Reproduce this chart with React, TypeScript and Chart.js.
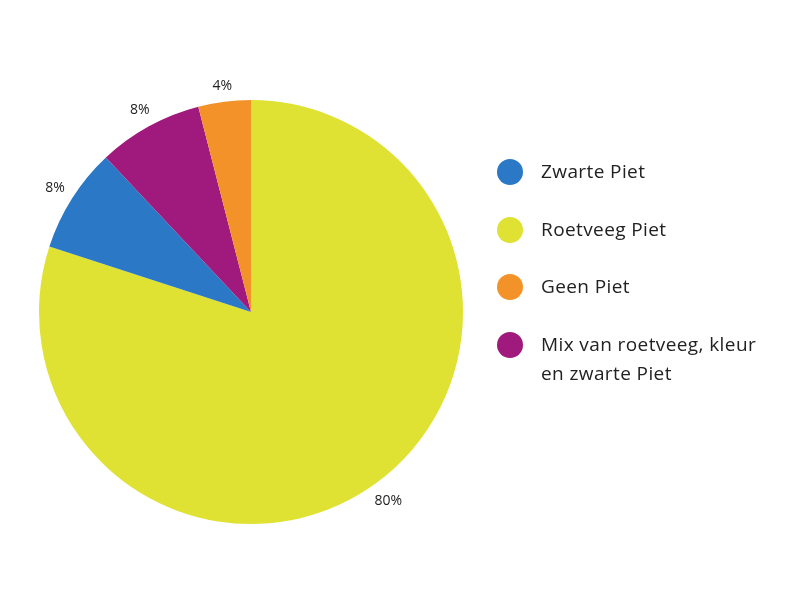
import { useEffect, useRef } from "react"
import { Chart, registerables } from "chart.js"

Chart.register(...registerables)

// slice order, clockwise from 12 o'clock
const labels = ["Roetveeg Piet", "Zwarte Piet", "Mix van roetveeg, kleur en zwarte Piet", "Geen Piet"]
const values = [80, 8, 8, 4]
const colors = ["#dfe232", "#2a78c6", "#a0197d", "#f39229"]
// the legend lists them in another order
const legendOrder = [1, 0, 3, 2]
const legendText = [["Roetveeg Piet"], ["Zwarte Piet"], ["Mix van roetveeg, kleur", "en zwarte Piet"], ["Geen Piet"]]

const FONT = "'Open Sans', Lato, sans-serif"

const outsideLabels = {
  id: "outsideLabels",
  afterDatasetsDraw(chart: Chart) {
    const ctx = chart.ctx
    const meta = chart.getDatasetMeta(0)
    ctx.save()
    ctx.font = `14px ${FONT}`
    ctx.fillStyle = "#222"
    ctx.textAlign = "center"
    ctx.textBaseline = "middle"
    meta.data.forEach((arc: any, i) => {
      const { x, y, startAngle, endAngle, outerRadius } = arc.getProps(
        ["x", "y", "startAngle", "endAngle", "outerRadius"],
        true
      )
      const mid = (startAngle + endAngle) / 2
      const ux = Math.cos(mid)
      const uy = Math.sin(mid)
      const text = values[i] + "%"
      const w = ctx.measureText(text).width
      // push the label out far enough that its box clears the rim
      const d = outerRadius + 8 + 0.5 * (w * Math.abs(ux) + 14 * Math.abs(uy))
      ctx.fillText(text, x + ux * d, y + uy * d)
    })
    ctx.restore()
  },
}

const PieChart = () => {
  const chartRef = useRef<HTMLCanvasElement | null>(null)
  const chartInstance = useRef<Chart | null>(null)

  useEffect(() => {
    if (!chartRef.current) return
    const ctx = chartRef.current.getContext("2d")
    if (!ctx) return
    if (chartInstance.current) chartInstance.current.destroy()

    chartInstance.current = new Chart(ctx, {
      type: "pie",
      data: {
        labels,
        datasets: [
          {
            data: values,
            backgroundColor: colors,
            borderWidth: 0,
          },
        ],
      },
      options: {
        responsive: false,
        animation: false,
        layout: { padding: { left: 39, top: 100, right: 337, bottom: 76 } },
        plugins: {
          legend: { display: false },
          tooltip: { enabled: false },
        },
      },
      plugins: [outsideLabels],
    })

    return () => {
      if (chartInstance.current) {
        chartInstance.current.destroy()
        chartInstance.current = null
      }
    }
  }, [])

  return <canvas ref={chartRef} width={800} height={600} />
}

export default function App() {
  return (
    <div
      style={{
        position: "fixed",
        left: 0,
        top: 0,
        width: 800,
        height: 600,
        background: "#fff",
        fontFamily: FONT,
      }}
    >
      <PieChart />
      <div style={{ position: "absolute", left: 497, top: 158 }}>
        {legendOrder.map((idx) => (
          <div key={idx} style={{ position: "relative", height: 57.5 }}>
            <span
              style={{
                position: "absolute",
                left: 0,
                top: 1,
                width: 26,
                height: 26,
                borderRadius: "50%",
                background: colors[idx],
              }}
            />
            <div
              style={{
                position: "absolute",
                left: 44,
                top: -1,
                fontSize: 19,
                letterSpacing: 0.4,
                lineHeight: "29px",
                color: "#222",
                whiteSpace: "nowrap",
              }}
            >
              {legendText[idx].map((line, j) => (
                <div key={j}>{line}</div>
              ))}
            </div>
          </div>
        ))}
      </div>
    </div>
  )
}
